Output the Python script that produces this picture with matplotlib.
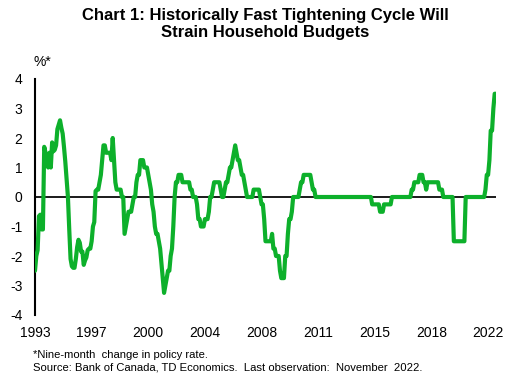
import numpy as np
import pandas as pd
import matplotlib
matplotlib.use("Agg")
import matplotlib.pyplot as plt

plt.rcParams['font.family'] = ['Liberation Sans', 'DejaVu Sans']

# Nine-month change in policy rate, monthly, Sep 1993 - Nov 2022 (%)
start_month = "1993-09"
v1993 = [-2.5, -2.0, -1.8, -0.65]
v1994 = [-0.6, -1.1, -1.1, 1.7, 1.5, 1.1, 1.0, 1.5, 1.0, 1.85, 1.55, 1.6]
v1995 = [1.75, 2.3, 2.45, 2.6, 2.35, 2.15, 1.7, 1.2, 0.6, 0.0, -1.1, -2.1]
v1996 = [-2.35, -2.4, -2.4, -2.1, -1.7, -1.45, -1.55, -1.85, -1.85, -2.3, -2.15, -2.05]
v1997 = [-1.8, -1.75, -1.75, -1.5, -1.0, -0.85, 0.2, 0.25, 0.25, 0.5, 0.75, 1.25]
v1998 = [1.75, 1.75, 1.5, 1.5, 1.5, 1.5, 1.25, 2.0, 1.25, 0.5, 0.25, 0.25]
v1999 = [0.25, 0.25, 0.0, 0.0, -1.25, -1.0, -0.75, -0.5, -0.5, -0.5, -0.25, 0.0]
v2000 = [0.0, 0.5, 0.75, 0.75, 1.25, 1.25, 1.25, 1.0, 1.0, 1.0, 0.75, 0.5]
v2001 = [0.25, -0.25, -0.5, -1.0, -1.25, -1.25, -1.5, -1.75, -2.25, -2.75, -3.25, -3.0]
v2002 = [-2.75, -2.5, -2.5, -2.0, -1.75, -1.0, 0.0, 0.5, 0.5, 0.75, 0.75, 0.75]
v2003 = [0.5, 0.5, 0.5, 0.5, 0.5, 0.5, 0.25, 0.25, 0.0, 0.0, 0.0, -0.25]
v2004 = [-0.75, -0.75, -1.0, -1.0, -1.0, -0.75, -0.75, -0.75, -0.5, 0.0, 0.0, 0.25]
v2005 = [0.5, 0.5, 0.5, 0.5, 0.5, 0.25, 0.0, 0.0, 0.25, 0.5, 0.5, 0.75]
v2006 = [1.0, 1.0, 1.25, 1.5, 1.75, 1.5, 1.25, 1.25, 1.0, 0.75, 0.75, 0.5]
v2007 = [0.25, 0.0, 0.0, 0.0, 0.0, 0.0, 0.25, 0.25, 0.25, 0.25, 0.25, 0.0]
v2008 = [-0.25, -0.25, -0.75, -1.5, -1.5, -1.5, -1.5, -1.5, -1.25, -1.75, -1.75, -2.0]
v2009 = [-2.0, -2.0, -2.5, -2.75, -2.75, -2.75, -2.0, -2.0, -1.25, -0.75, -0.75, -0.5]
v2010 = [0.0, 0.0, 0.0, 0.0, 0.0, 0.25, 0.5, 0.5, 0.75, 0.75, 0.75, 0.75]
v2011 = [0.75, 0.75, 0.5, 0.25, 0.25, 0.0, 0.0, 0.0, 0.0, 0.0, 0.0, 0.0]
v2012 = [0.0, 0.0, 0.0, 0.0, 0.0, 0.0, 0.0, 0.0, 0.0, 0.0, 0.0, 0.0]
v2013 = [0.0, 0.0, 0.0, 0.0, 0.0, 0.0, 0.0, 0.0, 0.0, 0.0, 0.0, 0.0]
v2014 = [0.0, 0.0, 0.0, 0.0, 0.0, 0.0, 0.0, 0.0, 0.0, 0.0, 0.0, 0.0]
v2015 = [-0.25, -0.25, -0.25, -0.25, -0.25, -0.25, -0.5, -0.5, -0.5, -0.25, -0.25, -0.25]
v2016 = [-0.25, -0.25, -0.25, 0.0, 0.0, 0.0, 0.0, 0.0, 0.0, 0.0, 0.0, 0.0]
v2017 = [0.0, 0.0, 0.0, 0.0, 0.0, 0.0, 0.25, 0.25, 0.5, 0.5, 0.5, 0.5]
v2018 = [0.75, 0.75, 0.75, 0.5, 0.5, 0.25, 0.5, 0.5, 0.5, 0.5, 0.5, 0.5]
v2019 = [0.5, 0.5, 0.5, 0.25, 0.25, 0.25, 0.0, 0.0, 0.0, 0.0, 0.0, 0.0]
v2020 = [0.0, 0.0, -1.5, -1.5, -1.5, -1.5, -1.5, -1.5, -1.5, -1.5, -1.5, 0.0]
v2021 = [0.0, 0.0, 0.0, 0.0, 0.0, 0.0, 0.0, 0.0, 0.0, 0.0, 0.0, 0.0]
v2022 = [0.0, 0.0, 0.25, 0.75, 0.75, 1.25, 2.25, 2.25, 3.0, 3.5, 3.5]

values = (v1993 + v1994 + v1995 + v1996 + v1997 + v1998 + v1999 + v2000 + v2001
          + v2002 + v2003 + v2004 + v2005 + v2006 + v2007 + v2008 + v2009 + v2010
          + v2011 + v2012 + v2013 + v2014 + v2015 + v2016 + v2017 + v2018 + v2019
          + v2020 + v2021 + v2022)
months = pd.period_range(start_month, periods=len(values), freq="M")

tick_labels = ["1993", "1997", "2000", "2004", "2008", "2011", "2015", "2018", "2022"]
tick_step = 43  # category-axis label interval (months)
y_ticks = [-4, -3, -2, -1, 0, 1, 2, 3, 4]

title = "Chart 1: Historically Fast Tightening Cycle Will\nStrain Household Budgets"
unit_label = "%*"
note1 = "*Nine-month  change in policy rate."
note2 = "Source: Bank of Canada, TD Economics.  Last observation:  November  2022."

W, H = 515, 384
fig = plt.figure(figsize=(W / 100, H / 100), dpi=100)
ax = fig.add_axes([35 / W, 1 - 315 / H, (496 - 35) / W, (315 - 79) / H])

x = np.arange(len(months))
ax.axhline(0, color="#1a1a1a", lw=1.4, zorder=1)
ax.plot(x, values, color="#0DB02B", lw=3.0, solid_joinstyle="round",
        solid_capstyle="round", zorder=3)

ax.set_xlim(0, len(months) - 1)
ax.set_ylim(-4, 4)
ax.set_xticks(np.arange(len(tick_labels)) * tick_step)
ax.set_xticklabels(tick_labels)
ax.set_yticks(y_ticks)
ax.set_yticklabels([str(t) for t in y_ticks])
ax.tick_params(axis="both", length=0, labelsize=10, colors="black")
ax.tick_params(axis="y", pad=9)
ax.tick_params(axis="x", pad=8)

for s in ["top", "right", "bottom"]:
    ax.spines[s].set_visible(False)
ax.spines["left"].set_linewidth(1.5)
ax.spines["left"].set_color("black")

fig.text(265 / W, 1 - 8 / H, title, ha="center", va="top", fontsize=12,
         fontweight="bold", linespacing=1.2)
fig.text(33 / W, 1 - 66 / H, unit_label, ha="left", va="baseline", fontsize=10)
fig.text(33 / W, 1 - 358 / H, note1, ha="left", va="baseline", fontsize=8.1)
fig.text(33 / W, 1 - 370 / H, note2, ha="left", va="baseline", fontsize=8.1)

fig.savefig("out.png", dpi=100)
